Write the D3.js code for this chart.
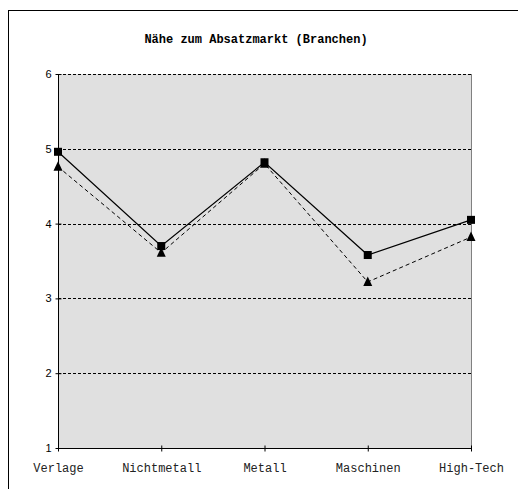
<!DOCTYPE html>
<html>
<head>
<meta charset="utf-8">
<script src="https://cdn.jsdelivr.net/npm/d3@7"></script>
<style>
  html, body { margin: 0; padding: 0; background: #fff; }
  svg { display: block; }
</style>
</head>
<body>
<svg id="chart" width="518" height="489"></svg>
<script>
// Branchen along the x axis
const categories = ["Verlage", "Nichtmetall", "Metall", "Maschinen", "High-Tech"];
// Series drawn with square markers and a solid line
const seriesSquare = [4.96, 3.70, 4.82, 3.58, 4.05];
// Series drawn with triangle markers and a dashed line
const seriesTriangle = [4.76, 3.61, 4.80, 3.22, 3.82];
// Value axis ticks
const yTicks = [1, 2, 3, 4, 5, 6];
const titleText = "Nähe zum Absatzmarkt (Branchen)";

const svg = d3.select("#chart");
const plot = { left: 58, right: 471, top: 74, bottom: 448 };
const monoFont = "'Liberation Mono', 'Courier New', monospace";

// Outer chart frame
svg.append("rect")
  .attr("x", 8.5).attr("y", 10.5)
  .attr("width", 540).attr("height", 520)
  .attr("fill", "#fff").attr("stroke", "#000").attr("stroke-width", 1);

const x = d3.scalePoint().domain(categories).range([plot.left, plot.right]);
const y = d3.scaleLinear().domain([1, 6]).range([plot.bottom, plot.top]);

// Plot area background
svg.append("rect")
  .attr("x", plot.left).attr("y", plot.top)
  .attr("width", plot.right - plot.left).attr("height", plot.bottom - plot.top)
  .attr("fill", "#e0e0e0");

// Right edge of plot area
svg.append("line")
  .attr("x1", plot.right + 0.5).attr("x2", plot.right + 0.5)
  .attr("y1", plot.top).attr("y2", plot.bottom)
  .attr("stroke", "#808080").attr("stroke-width", 1);

// Horizontal dashed gridlines
svg.append("g").selectAll("line")
  .data(yTicks.filter(d => d > 1))
  .join("line")
  .attr("x1", plot.left).attr("x2", plot.right)
  .attr("y1", d => Math.round(y(d)) + 0.5).attr("y2", d => Math.round(y(d)) + 0.5)
  .attr("stroke", "#000").attr("stroke-width", 1)
  .attr("stroke-dasharray", "3,2");

// Y axis
const yAxis = svg.append("g")
  .attr("transform", `translate(${plot.left + 0.5},0)`)
  .call(d3.axisLeft(y).tickValues(yTicks).tickFormat(d3.format("d")).tickSize(3).tickPadding(4));
yAxis.select(".domain").attr("stroke", "#000").attr("d", `M0,${plot.top}V${plot.bottom}`);
yAxis.selectAll(".tick line").attr("x1", 3).attr("x2", -3).attr("stroke", "#000");
yAxis.selectAll(".tick text")
  .attr("font-family", "'Liberation Sans', Arial, sans-serif")
  .attr("font-size", 11).attr("fill", "#000");

// X axis
const xAxis = svg.append("g")
  .attr("transform", `translate(0,${plot.bottom + 0.5})`)
  .call(d3.axisBottom(x).tickSize(3).tickPadding(12));
xAxis.select(".domain").attr("stroke", "#000").attr("d", `M${plot.left},0H${plot.right}`);
xAxis.selectAll(".tick line").attr("y1", -3).attr("y2", 3).attr("stroke", "#000");
xAxis.selectAll(".tick text")
  .attr("font-family", monoFont)
  .attr("font-size", 12).attr("fill", "#222");

// Title
svg.append("text")
  .attr("x", 256).attr("y", 43)
  .attr("text-anchor", "middle")
  .attr("font-family", monoFont)
  .attr("font-weight", "bold").attr("font-size", 12)
  .text(titleText);

const line = d3.line().x((d, i) => x(categories[i])).y(d => y(d));

// Triangle series (dashed)
svg.append("path")
  .datum(seriesTriangle)
  .attr("d", line)
  .attr("fill", "none").attr("stroke", "#000").attr("stroke-width", 1)
  .attr("stroke-dasharray", "4,3");
svg.append("g").selectAll("path")
  .data(seriesTriangle)
  .join("path")
  .attr("transform", (d, i) => `translate(${x(categories[i])},${y(d)})`)
  .attr("d", "M0,-5.5L4.5,4L-4.5,4Z")
  .attr("fill", "#000");

// Square series (solid)
svg.append("path")
  .datum(seriesSquare)
  .attr("d", line)
  .attr("fill", "none").attr("stroke", "#000").attr("stroke-width", 1.2);
svg.append("g").selectAll("rect")
  .data(seriesSquare)
  .join("rect")
  .attr("x", (d, i) => x(categories[i]) - 4)
  .attr("y", d => y(d) - 4)
  .attr("width", 8).attr("height", 8)
  .attr("fill", "#000");
</script>
</body>
</html>
